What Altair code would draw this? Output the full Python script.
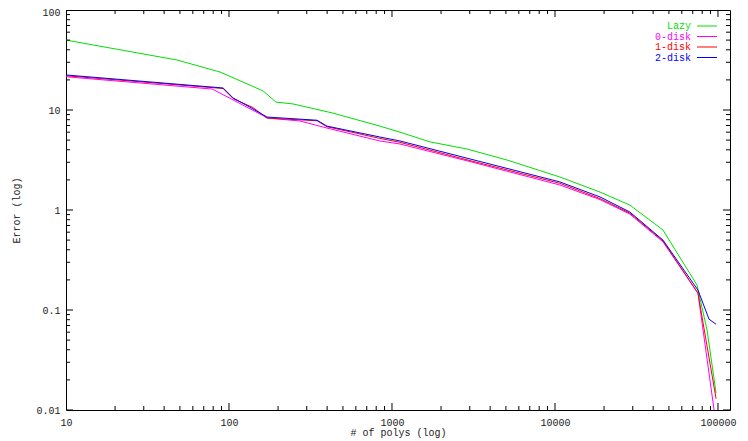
import altair as alt
import pandas as pd

# ---- data ----
series_names = ["Lazy", "0-disk", "1-disk", "2-disk"]
series_colors = ["#00e000", "#ff00ff", "#ff0000", "#0000ff"]

lazy_x = [10, 48, 88, 162, 194, 247, 435, 843, 1120, 1710, 2885, 5080, 10700, 18900, 28800, 46000, 74300, 85700, 97300]
lazy_y = [50, 31.6, 24, 15.5, 12.0, 11.5, 9.3, 6.9, 6.0, 4.8, 4.07, 3.16, 2.14, 1.51, 1.12, 0.63, 0.178, 0.063, 0.0148]

disk0_x = [10, 79, 173, 273, 399, 843, 1120, 3010, 10700, 18900, 28800, 46000, 75400, 97300]
disk0_y = [21.5, 16.2, 8.3, 7.76, 6.6, 4.9, 4.57, 3.05, 1.78, 1.27, 0.91, 0.48, 0.147, 0.0072]

disk1_x = [10, 92, 106, 140, 171, 347, 399, 843, 1120, 3010, 10700, 18900, 28800, 46000, 75400, 97300]
disk1_y = [22.0, 16.4, 13.0, 10.6, 8.3, 7.8, 6.8, 5.2, 4.75, 3.12, 1.85, 1.3, 0.93, 0.49, 0.147, 0.013]

disk2_x = [10, 92, 106, 134, 171, 347, 399, 843, 1120, 3010, 10700, 18900, 28800, 46000, 75400, 88100, 97300]
disk2_y = [22.4, 16.6, 13.2, 10.7, 8.5, 7.9, 6.9, 5.37, 4.9, 3.24, 1.91, 1.35, 0.955, 0.5, 0.158, 0.081, 0.072]

x_labels = [10, 100, 1000, 10000, 100000]
y_labels = [0.01, 0.1, 1, 10, 100]

W, H = 664, 400
FONT = "Liberation Mono"
X_DOMAIN = [10, 118500]
Y_DOMAIN = [0.01, 100]
MAJ, MIN = 7, 4
X_PX_PER_DECADE = 163.0
Y_PX_PER_DECADE = 100.0

# ---- build tables ----
rows = []
for name, xs, ys in [("Lazy", lazy_x, lazy_y), ("0-disk", disk0_x, disk0_y),
                     ("1-disk", disk1_x, disk1_y), ("2-disk", disk2_x, disk2_y)]:
    for i, (a, b) in enumerate(zip(xs, ys)):
        rows.append({"series": name, "seg": name, "n": a, "err": b, "order": i})

x_minor = [m * d for d in [10, 100, 1000, 10000] for m in range(2, 10)]
y_minor = [m * d for d in [0.01, 0.1, 1, 10] for m in range(2, 10)]

# gnuplot-style inward tick marks on all four sides, drawn through the same log scales
def add_tick(seg, p0, p1):
    rows.append({"series": "tick", "seg": seg, "n": p0[0], "err": p0[1], "order": 0})
    rows.append({"series": "tick", "seg": seg, "n": p1[0], "err": p1[1], "order": 1})


for vals, L in [(x_labels, MAJ), (x_minor, MIN)]:
    fy = 10 ** (L / Y_PX_PER_DECADE)
    for v in vals:
        add_tick(f"xb{v}", (v, Y_DOMAIN[0]), (v, Y_DOMAIN[0] * fy))
        add_tick(f"xt{v}", (v, Y_DOMAIN[1]), (v, Y_DOMAIN[1] / fy))
for vals, L in [(y_labels, MAJ), (y_minor, MIN)]:
    fx = 10 ** (L / X_PX_PER_DECADE)
    for v in vals:
        add_tick(f"yl{v}", (X_DOMAIN[0], v), (X_DOMAIN[0] * fx, v))
        add_tick(f"yr{v}", (X_DOMAIN[1], v), (X_DOMAIN[1] / fx, v))

df = pd.DataFrame(rows)

color_enc = alt.Color("series:N", scale=alt.Scale(domain=series_names + ["tick"],
                                                  range=series_colors + ["#000000"]), legend=None)

xaxis = alt.Axis(values=x_labels, labelExpr="toString(datum.value)", ticks=False,
                 domain=False, grid=False, labelPadding=7, title="# of polys (log)",
                 titlePadding=0, labelFlush=False)
yaxis = alt.Axis(values=y_labels, labelExpr="toString(datum.value)", ticks=False,
                 domain=False, grid=False, labelPadding=6, title="Error (log)",
                 titlePadding=14, labelFlush=False,
                 labelOffset={"condition": {"test": "datum.value == 100", "value": 2}, "value": 0})

lines = alt.Chart(df).mark_line(strokeWidth=1, clip=True).encode(
    x=alt.X("n:Q", scale=alt.Scale(type="log", domain=X_DOMAIN, nice=False), axis=xaxis),
    y=alt.Y("err:Q", scale=alt.Scale(type="log", domain=Y_DOMAIN, nice=False), axis=yaxis),
    color=color_enc,
    detail="seg:N",
    order="order:Q",
)

leg_df = pd.DataFrame({"series": series_names})
leg_y = alt.Y("series:N", scale=alt.Scale(type="point", domain=series_names, range=[16, 47.5], padding=0), axis=None)
leg_text = alt.Chart(leg_df).mark_text(align="right", baseline="middle", font=FONT, fontSize=10).encode(
    x=alt.value(625), y=leg_y, text="series:N", color=color_enc)
leg_line = alt.Chart(leg_df).mark_rule(strokeWidth=1).encode(
    x=alt.value(631), x2=alt.value(651), y=leg_y, color=color_enc)

chart = alt.layer(lines, leg_text, leg_line).resolve_scale(
    x="independent", y="independent").properties(
    width=W, height=H,
    autosize=alt.AutoSizeParams(type="none"),
    padding={"left": 58, "top": 2, "right": 10, "bottom": 31},
    background="white",
).configure_view(stroke="black", strokeWidth=1, fill="transparent").configure_axis(
    labelFont=FONT, labelFontSize=10, labelColor="#222",
    titleFont=FONT, titleFontSize=10, titleFontWeight="normal", titleColor="#222",
)

chart.save("out.html", embed_options={"renderer": "svg", "actions": False})
